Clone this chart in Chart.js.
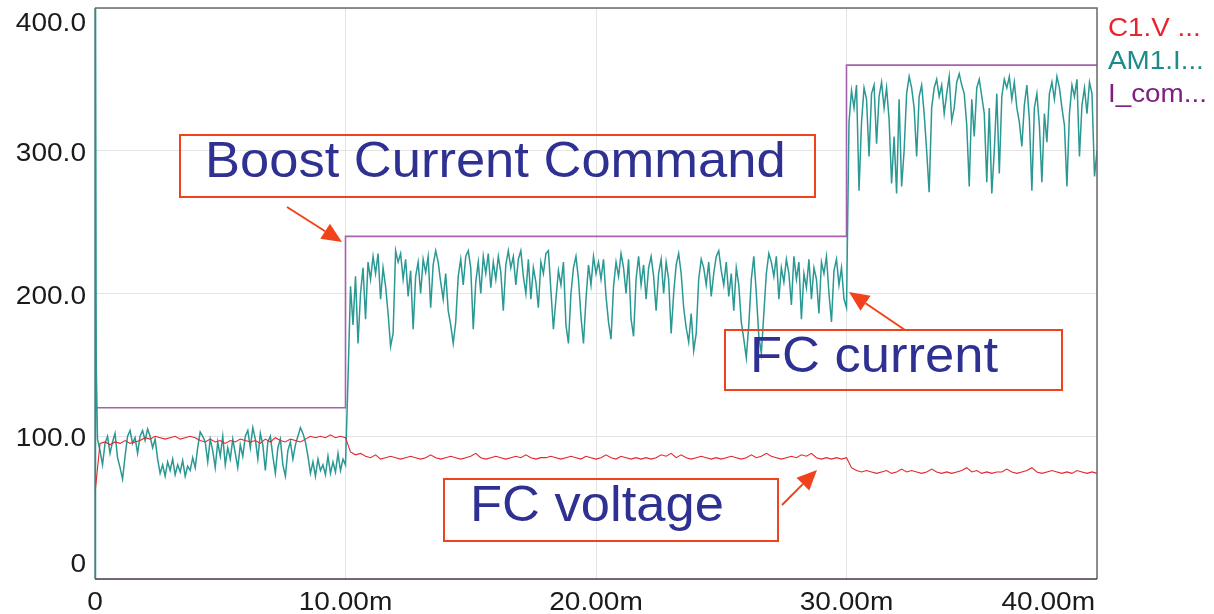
<!DOCTYPE html>
<html>
<head>
<meta charset="utf-8">
<script src="https://cdn.jsdelivr.net/npm/chart.js@4.4.0/dist/chart.umd.min.js"></script>
<style>
  html, body { margin: 0; padding: 0; background: #fff; }
  #wrap { width: 1214px; height: 614px; position: relative; }
</style>
</head>
<body>
<div id="wrap"><canvas id="chart"></canvas></div>
<script>
// time in ms
const xTicks = [0, 10, 20, 30, 40]
const xTickLabels = ["0", "10.00m", "20.00m", "30.00m", "40.00m"]
const yTicks = [0, 100, 200, 300, 400]
const yTickLabels = ["0", "100.0", "200.0", "300.0", "400.0"]
const seriesNames = ["C1.V ...", "AM1.I...", "I_com..."]

// boost current command (steps)
const commandTimes = [0, 0, 10, 10, 30, 30, 40]
const commandValues = [0, 120, 120, 240, 240, 360, 360]

// FC current: start transient, then one sample every 0.1 ms (0.1 .. 40.0)
const currentStartTimes = [0, 0.02, 0.05]
const currentStartValues = [0, 420, 150]
const currentStep = 0.1
const currentValues = [
  98, 90, 80, 95, 100, 88, 96, 102, 85, 78,
  70, 86, 100, 104, 95, 99, 88, 100, 104, 97,
  105, 100, 92, 98, 84, 74, 80, 72, 82, 76,
  84, 73, 80, 75, 83, 72, 79, 76, 85, 78,
  92, 103, 100, 96, 82, 98, 90, 78, 96, 86,
  100, 80, 92, 84, 98, 88, 78, 94, 86, 100,
  104, 92, 106, 98, 84, 102, 94, 76, 96, 100,
  86, 74, 92, 98, 80, 72, 90, 96, 84, 94,
  100, 106, 102, 96, 86, 74, 82, 72, 84, 76,
  80, 73, 86, 74, 82, 75, 88, 76, 84, 80,
  140, 205, 178, 212, 165, 200, 218, 182, 222, 210,
  226, 214, 228, 196, 218, 205, 186, 163, 172, 230,
  222, 228, 210, 224, 198, 216, 175, 212, 222, 200,
  224, 215, 226, 190, 220, 230, 222, 208, 196, 214,
  188, 178, 165, 180, 212, 224, 206, 226, 230, 218,
  175, 208, 222, 200, 226, 214, 228, 204, 222, 210,
  226, 215, 188, 220, 230, 218, 226, 206, 224, 230,
  212, 200, 224, 196, 218, 208, 190, 222, 214, 228,
  230, 202, 175, 196, 216, 206, 222, 178, 165, 200,
  218, 226, 210, 184, 165, 196, 220, 206, 226, 214,
  222, 210, 224, 198, 180, 168, 205, 222, 212, 228,
  218, 200, 224, 182, 170, 210, 226, 206, 220, 196,
  218, 226, 212, 188, 214, 224, 200, 222, 210, 172,
  200, 220, 228, 214, 190, 176, 166, 186, 160, 172,
  210, 224, 218, 206, 222, 198, 214, 226, 230, 216,
  206, 222, 198, 214, 188, 218, 206, 180, 168, 155,
  178, 210, 226, 200, 170, 158, 186, 214, 228, 222,
  212, 226, 196, 218, 208, 224, 214, 192, 226, 210,
  222, 182, 214, 204, 224, 196, 218, 210, 186, 222,
  214, 226, 200, 180, 216, 224, 206, 218, 196, 190,
  320, 342, 330, 346, 272, 320, 344, 336, 296, 340,
  346, 305, 338, 348, 330, 344, 322, 277, 310, 270,
  336, 275, 300, 340, 352, 344, 330, 296, 338, 346,
  326, 300, 271, 330, 344, 350, 338, 346, 326, 340,
  352, 321, 330, 348, 354, 346, 340, 318, 275, 336,
  310, 344, 350, 338, 326, 278, 330, 270, 300, 340,
  284, 338, 350, 344, 352, 336, 348, 330, 320, 303,
  332, 346, 322, 272, 330, 340, 318, 278, 326, 306,
  340, 348, 336, 352, 344, 330, 318, 275, 326, 346,
  338, 350, 296, 332, 344, 326, 348, 340, 282, 300
]

// FC voltage: value at t=0, then one sample every 0.2 ms (0.2 .. 40.0)
const voltageStartValue = 60
const voltageStep = 0.2
const voltageValues = [
  95, 96, 94, 96, 95, 97, 95, 96, 97, 99,
  98, 100, 99, 98, 99, 100, 98, 99, 100, 99,
  97, 96, 98, 96, 97, 95, 97, 96, 98, 97,
  96, 97, 95, 98, 96, 99, 97, 96, 98, 97,
  96, 98, 100, 99, 100, 99, 101, 99, 100, 99,
  89, 87, 88, 86, 85, 87, 84, 85, 86, 85,
  84, 85, 86, 85, 84, 85, 87, 85, 84, 85,
  86, 85, 84, 85, 86, 88, 85, 84, 85, 86,
  85, 84, 85, 86, 85, 87, 85, 84, 85, 85,
  86, 85, 84, 85, 86, 85, 84, 86, 85, 84,
  85, 87, 85, 84, 86, 85, 84, 85, 84, 85,
  84, 85, 87, 86, 88, 85, 87, 85, 84, 85,
  86, 85, 84, 85, 84, 85, 86, 85, 84, 85,
  87, 85, 86, 88, 86, 85, 84, 85, 86, 85,
  87, 86, 88, 85, 84, 85, 84, 85, 84, 85,
  78, 76, 75, 76, 75, 74, 75, 76, 74, 75,
  77, 75, 76, 75, 74, 75, 77, 75, 74, 75,
  74, 75, 76, 78, 75, 76, 74, 75, 74, 75,
  75, 77, 75, 74, 75, 76, 78, 75, 74, 75,
  76, 75, 74, 75, 74, 76, 75, 74, 75, 74
]

const colors = { voltage: "#e2262d", current: "#2a9893", command: "#a862ad" }
const legendColors = ["#e8232b", "#1d8c88", "#7e1f82"]
const fontFamily = '"Liberation Sans", Arial, sans-serif'

// callouts drawn on top (pixel layout)
const notes = [
  { text: "Boost Current Command", box: [180, 135, 815, 197], tx: 205, ty: 177, arrow: [287, 207, 342, 242] },
  { text: "FC current", box: [725, 330, 1062, 390], tx: 750, ty: 372, arrow: [905, 330, 849, 292] },
  { text: "FC voltage", box: [444, 479, 778, 541], tx: 470, ty: 521, arrow: [782, 505, 817, 470] }
]

const currentPoints = currentStartTimes.map((t, i) => ({ x: t, y: currentStartValues[i] }))
  .concat(currentValues.map((v, i) => ({ x: +((i + 1) * currentStep).toFixed(2), y: v })))
const voltagePoints = [{ x: 0, y: voltageStartValue }]
  .concat(voltageValues.map((v, i) => ({ x: +((i + 1) * voltageStep).toFixed(2), y: v })))
const commandPoints = commandTimes.map((t, i) => ({ x: t, y: commandValues[i] }))

function wideText(ctx, text, x, y, align, sx) {
  const w = ctx.measureText(text).width * sx
  let left = x
  if (align === "right") left = x - w
  if (align === "center") left = x - w / 2
  ctx.save()
  ctx.translate(left, y)
  ctx.scale(sx, 1)
  ctx.textAlign = "left"
  ctx.textBaseline = "alphabetic"
  ctx.fillText(text, 0, 0)
  ctx.restore()
}

function drawArrow(ctx, x1, y1, x2, y2) {
  const ang = Math.atan2(y2 - y1, x2 - x1)
  const len = 20, half = 9
  const bx = x2 - len * Math.cos(ang), by = y2 - len * Math.sin(ang)
  ctx.beginPath()
  ctx.moveTo(x1, y1)
  ctx.lineTo(bx, by)
  ctx.stroke()
  ctx.beginPath()
  ctx.moveTo(x2, y2)
  ctx.lineTo(bx + half * Math.sin(ang), by - half * Math.cos(ang))
  ctx.lineTo(bx - half * Math.sin(ang), by + half * Math.cos(ang))
  ctx.closePath()
  ctx.fill()
}

const overlay = {
  id: "overlay",
  afterDraw(chart) {
    const { ctx, chartArea: a, scales } = chart
    ctx.save()

    // frame
    ctx.lineWidth = 1.5
    ctx.strokeStyle = "#6a6a6a"
    ctx.beginPath()
    ctx.moveTo(a.left, a.top); ctx.lineTo(a.right, a.top); ctx.lineTo(a.right, a.bottom)
    ctx.stroke()
    ctx.strokeStyle = "#4a3a4c"
    ctx.beginPath(); ctx.moveTo(a.left, a.bottom); ctx.lineTo(a.right, a.bottom); ctx.stroke()
    ctx.strokeStyle = "#4f7d7b"
    ctx.beginPath(); ctx.moveTo(a.left, a.top); ctx.lineTo(a.left, a.bottom); ctx.stroke()

    // y tick labels
    ctx.fillStyle = "#1a1a1a"
    ctx.font = "25.5px " + fontFamily
    yTicks.forEach((v, i) => {
      let y = scales.y.getPixelForValue(v) + 10
      if (i === yTicks.length - 1) y = a.top + 23
      if (i === 0) y = a.bottom - 7
      wideText(ctx, yTickLabels[i], 86, y, "right", 1.1)
    })
    // x tick labels
    xTicks.forEach((t, i) => {
      let x = scales.x.getPixelForValue(t)
      let align = "center"
      if (i === xTicks.length - 1) { align = "right"; x = a.right - 2 }
      wideText(ctx, xTickLabels[i], x, 610, align, 1.1)
    })

    // legend
    ctx.font = "26px " + fontFamily
    seriesNames.forEach((name, i) => {
      ctx.fillStyle = legendColors[i]
      wideText(ctx, name, 1108, 36 + i * 33, "left", 1.07)
    })

    // callouts
    ctx.strokeStyle = "#f2421c"
    ctx.fillStyle = "#f2421c"
    ctx.lineWidth = 2
    notes.forEach(n => {
      const [x1, y1, x2, y2] = n.box
      ctx.strokeRect(x1, y1, x2 - x1, y2 - y1)
      drawArrow(ctx, ...n.arrow)
    })
    ctx.fillStyle = "#2e3192"
    ctx.font = "50px " + fontFamily
    notes.forEach(n => wideText(ctx, n.text, n.tx, n.ty, "left", 1.05))

    ctx.restore()
  }
}

const gridStyle = { color: "#e4e4e4", lineWidth: 1, drawTicks: false }

new Chart(document.getElementById("chart").getContext("2d"), {
  type: "line",
  data: {
    datasets: [
      { label: seriesNames[0], data: voltagePoints, borderColor: colors.voltage, borderWidth: 1.1, order: 0 },
      { label: seriesNames[1], data: currentPoints, borderColor: colors.current, borderWidth: 1.5, order: 1 },
      { label: seriesNames[2], data: commandPoints, borderColor: colors.command, borderWidth: 1.6, order: 2 }
    ]
  },
  options: {
    responsive: true,
    maintainAspectRatio: false,
    animation: false,
    layout: { padding: { left: 95, right: 117, top: 8, bottom: 35 } },
    elements: { point: { radius: 0 }, line: { tension: 0 } },
    plugins: { legend: { display: false }, tooltip: { enabled: false } },
    scales: {
      x: {
        type: "linear", min: 0, max: 40,
        ticks: { display: false, stepSize: 10 },
        grid: gridStyle, border: { display: false },
        afterFit: s => { s.height = 0 }
      },
      y: {
        min: 0, max: 400,
        ticks: { display: false, stepSize: 100 },
        grid: gridStyle, border: { display: false },
        afterFit: s => { s.width = 0 }
      }
    }
  },
  plugins: [overlay]
})
</script>
</body>
</html>
